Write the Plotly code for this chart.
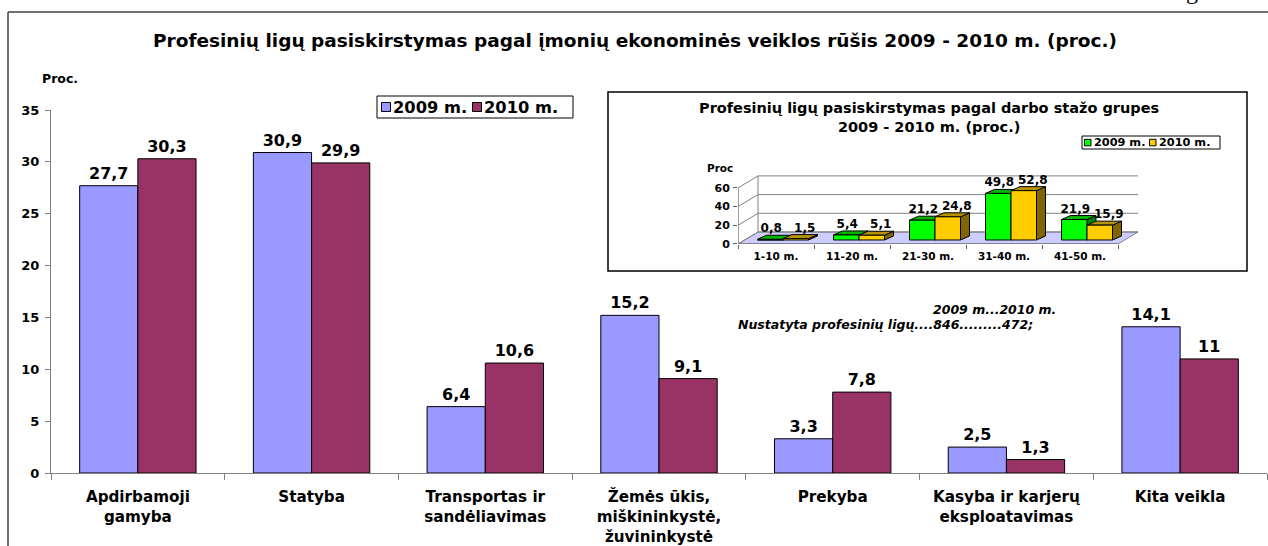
import plotly.graph_objects as go

# ---------------- data ----------------
categories = ["Apdirbamoji<br>gamyba", "Statyba", "Transportas ir<br>sandėliavimas",
              "Žemės ūkis,<br>miškininkystė,<br>žuvininkystė", "Prekyba",
              "Kasyba ir karjerų<br>eksploatavimas", "Kita veikla"]
series_names = ["2009 m.", "2010 m."]
values_2009 = [27.7, 30.9, 6.4, 15.2, 3.3, 2.5, 14.1]
values_2010 = [30.3, 29.9, 10.6, 9.1, 7.8, 1.3, 11]
y_ticks = [0, 5, 10, 15, 20, 25, 30, 35]

inset_categories = ["1-10 m.", "11-20 m.", "21-30 m.", "31-40 m.", "41-50 m."]
inset_2009 = [0.8, 5.4, 21.2, 49.8, 21.9]
inset_2010 = [1.5, 5.1, 24.8, 52.8, 15.9]
inset_ticks = [0, 20, 40, 60]

title_text = "Profesinių ligų pasiskirstymas pagal įmonių ekonominės veiklos rūšis 2009 - 2010 m. (proc.)"
inset_title = "Profesinių ligų pasiskirstymas pagal darbo stažo grupes<br>2009 - 2010 m. (proc.)"
y_title = "Proc."
inset_y_title = "Proc"
note_line1 = "2009 m...2010 m."
note_line2 = "Nustatyta profesinių ligų....846.........472;"

# ---------------- styles ----------------
FONT = "DejaVu Sans"
C2009, C2010 = "#9999FF", "#993366"
G_FRONT, G_TOP, G_SIDE = "#00FF00", "#00B400", "#008000"
Y_FRONT, Y_TOP, Y_SIDE = "#FFCC00", "#B89200", "#806600"
FLOOR = "#CCCCFF"
GRID = "#808080"


def fmt(v):
    return f"{v:g}".replace(".", ",")


def bfont(size, color="black", style="normal"):
    return dict(family=FONT, size=size, color=color, weight="bold", style=style)


W, H = 1268, 546
L, R, T, B = 51, 1, 110, 73
PW, PH = W - L - R, H - T - B


def px(x):
    return (x - L) / PW


def py(y):
    return (H - B - y) / PH


fig = go.Figure()

# ---------------- main bars ----------------
for name, vals, col in [(series_names[0], values_2009, C2009), (series_names[1], values_2010, C2010)]:
    fig.add_trace(go.Bar(
        x=categories, y=vals, name=name,
        marker=dict(color=col, line=dict(color="black", width=1)),
        text=[fmt(v) for v in vals], textposition="outside",
        textfont=bfont(16), cliponaxis=False, constraintext="none",
        showlegend=False, xaxis="x", yaxis="y", hoverinfo="skip"))

# ---------------- inset pseudo-3D chart ----------------
CAT_PX = 76.0
UNIT_PX = 0.935
DXW, DYW = 20 / CAT_PX, 12 / UNIT_PX        # wall depth
BOX, BOY = 7 / CAT_PX, 4 / UNIT_PX          # bar plane offset
BDX, BDY = 9 / CAT_PX, 4 / UNIT_PX          # bar depth
BW = 25.5 / CAT_PX                          # bar width
n = len(inset_categories)
xl, xr = -0.5, n - 0.5

# floor
fig.add_trace(go.Scatter(
    x=[xl, xr, xr + DXW, xl + DXW, xl], y=[0, 0, DYW, DYW, 0],
    mode="lines", fill="toself", fillcolor=FLOOR, line=dict(color=GRID, width=1),
    xaxis="x2", yaxis="y2", showlegend=False, hoverinfo="skip"))

# walls / gridlines
gx, gy = [], []
for v in inset_ticks:
    gx += [xl, xl + DXW, xr + DXW, None]
    gy += [v, v + DYW, v + DYW, None]
gx += [xl + DXW, xl + DXW, None]
gy += [DYW, inset_ticks[-1] + DYW, None]
fig.add_trace(go.Scatter(x=gx, y=gy, mode="lines", line=dict(color=GRID, width=1),
                         xaxis="x2", yaxis="y2", showlegend=False, hoverinfo="skip"))
# front axis line
fig.add_trace(go.Scatter(x=[xl, xl, xr], y=[inset_ticks[-1], 0, 0], mode="lines",
                         line=dict(color="#606060", width=1.2),
                         xaxis="x2", yaxis="y2", showlegend=False, hoverinfo="skip"))


def faces(vals, shift, label_dx):
    fx, fy, tx, ty, sx, sy = [], [], [], [], [], []
    lx, ly = [], []
    for i, v in enumerate(vals):
        x0 = i + BOX + shift
        x1 = x0 + BW
        y0, y1 = BOY, BOY + v
        fx += [x0, x1, x1, x0, x0, None]
        fy += [y0, y0, y1, y1, y0, None]
        tx += [x0, x1, x1 + BDX, x0 + BDX, x0, None]
        ty += [y1, y1, y1 + BDY, y1 + BDY, y1, None]
        sx += [x1, x1 + BDX, x1 + BDX, x1, x1, None]
        sy += [y0, y0 + BDY, y1 + BDY, y1, y0, None]
        lx.append((x0 + x1) / 2 + label_dx)
        ly.append(y1 + BDY)
    return fx, fy, tx, ty, sx, sy, lx, ly


for vals, shift, ldx, (cf, ct, cs) in [(inset_2009, -BW, 1 / CAT_PX, (G_FRONT, G_TOP, G_SIDE)),
                                       (inset_2010, 0.0, 9 / CAT_PX, (Y_FRONT, Y_TOP, Y_SIDE))]:
    fx, fy, tx, ty, sx, sy, lx, ly = faces(vals, shift, ldx)
    for xs, ys, c in [(sx, sy, cs), (tx, ty, ct), (fx, fy, cf)]:
        fig.add_trace(go.Scatter(x=xs, y=ys, mode="lines", fill="toself", fillcolor=c,
                                 line=dict(color="black", width=1),
                                 xaxis="x2", yaxis="y2", showlegend=False, hoverinfo="skip"))
    fig.add_trace(go.Scatter(x=lx, y=ly, mode="text", text=[fmt(v) for v in vals],
                             textposition="top center", textfont=bfont(12), cliponaxis=False,
                             xaxis="x2", yaxis="y2", showlegend=False, hoverinfo="skip"))

# ---------------- layout ----------------
in_x0 = 738
in_y0 = 244
x2_range = [xl, xr + 0.35]
y2_range = [0, 75]
x2_dom = [px(in_x0), px(in_x0 + (x2_range[1] - x2_range[0]) * CAT_PX)]
y2_dom = [py(in_y0), py(in_y0 - (y2_range[1] - y2_range[0]) * UNIT_PX)]

shapes = [
    # page frame
    dict(type="line", xref="paper", yref="paper", x0=px(8), x1=px(W + 5), y0=py(12), y1=py(12),
         line=dict(color="#404040", width=1.5)),
    dict(type="line", xref="paper", yref="paper", x0=px(8), x1=px(8), y0=py(12), y1=py(H + 5),
         line=dict(color="#404040", width=1.5)),
    # inset box
    dict(type="rect", xref="paper", yref="paper", x0=px(608), x1=px(1247), y0=py(92), y1=py(271),
         line=dict(color="black", width=1.5), fillcolor="white", layer="below"),
    # main legend
    dict(type="rect", xref="paper", yref="paper", x0=px(377), x1=px(573), y0=py(96), y1=py(118),
         line=dict(color="black", width=1), fillcolor="white"),
    dict(type="rect", xref="paper", yref="paper", x0=px(381.5), x1=px(390.5), y0=py(102.5), y1=py(111.5),
         line=dict(color="black", width=1), fillcolor=C2009),
    dict(type="rect", xref="paper", yref="paper", x0=px(472.5), x1=px(481.5), y0=py(102.5), y1=py(111.5),
         line=dict(color="black", width=1), fillcolor=C2010),
    # inset legend
    dict(type="rect", xref="paper", yref="paper", x0=px(1082), x1=px(1220), y0=py(136), y1=py(149),
         line=dict(color="black", width=1), fillcolor="white"),
    dict(type="rect", xref="paper", yref="paper", x0=px(1084.5), x1=px(1091), y0=py(139.3), y1=py(145.8),
         line=dict(color="black", width=1), fillcolor=G_FRONT),
    dict(type="rect", xref="paper", yref="paper", x0=px(1149.5), x1=px(1156), y0=py(139.3), y1=py(145.8),
         line=dict(color="black", width=1), fillcolor=Y_FRONT),
]

annotations = [
    dict(text=title_text, xref="paper", yref="paper", x=px(635), y=py(40), showarrow=False,
         xanchor="center", yanchor="middle", font=bfont(18.5)),
    dict(text=y_title, xref="paper", yref="paper", x=px(40), y=py(78), showarrow=False,
         xanchor="left", yanchor="middle", font=bfont(12.5)),
    dict(text=series_names[0], xref="paper", yref="paper", x=px(390.5), y=py(107.5), showarrow=False,
         xanchor="left", yanchor="middle", font=bfont(16.3)),
    dict(text=series_names[1], xref="paper", yref="paper", x=px(481.5), y=py(107.5), showarrow=False,
         xanchor="left", yanchor="middle", font=bfont(16.3)),
    dict(text=inset_title, xref="paper", yref="paper", x=px(929), y=py(117.5), showarrow=False,
         xanchor="center", yanchor="middle", font=bfont(14.5)),
    dict(text=series_names[0], xref="paper", yref="paper", x=px(1091.5), y=py(142.8), showarrow=False,
         xanchor="left", yanchor="middle", font=bfont(11.3)),
    dict(text=series_names[1], xref="paper", yref="paper", x=px(1156.5), y=py(142.8), showarrow=False,
         xanchor="left", yanchor="middle", font=bfont(11.3)),
    dict(text=inset_y_title, xref="paper", yref="paper", x=px(705), y=py(167.5), showarrow=False,
         xanchor="left", yanchor="middle", font=bfont(10.5)),
    dict(text=note_line1, xref="paper", yref="paper", x=px(931), y=py(309), showarrow=False,
         xanchor="left", yanchor="middle", font=bfont(12.5, style="italic")),
    dict(text=note_line2, xref="paper", yref="paper", x=px(736), y=py(324), showarrow=False,
         xanchor="left", yanchor="middle", font=bfont(12.5, style="italic")),
    dict(text="g", xref="paper", yref="paper", x=px(1192), y=py(-9), showarrow=False,
         xanchor="center", yanchor="middle",
         font=dict(family="Liberation Serif", size=24, color="black")),
]

fig.update_layout(
    width=W, height=H,
    margin=dict(l=L, r=R, t=T, b=B, pad=0, autoexpand=False),
    paper_bgcolor="white", plot_bgcolor="rgba(0,0,0,0)",
    barmode="group", bargap=0.33, bargroupgap=0,
    showlegend=False,
    xaxis=dict(type="category", showline=True, linecolor=GRID, linewidth=1.2,
               ticks="outside", tickson="boundaries", ticklen=6, tickcolor=GRID,
               tickfont=bfont(15.2), showgrid=False, zeroline=False, automargin=False,
               ticklabelstandoff=10, domain=[0, 1], fixedrange=True),
    yaxis=dict(range=[0, 35], tickvals=y_ticks, showline=True, linecolor=GRID, linewidth=1.2,
               ticks="outside", ticklen=5, tickcolor=GRID, tickfont=bfont(13), automargin=False,
               showgrid=False, zeroline=False, ticklabelstandoff=3, domain=[0, 1], fixedrange=True),
    xaxis2=dict(range=x2_range, domain=x2_dom, anchor="y2", automargin=False,
                tickvals=list(range(n)), ticktext=inset_categories, ticks="",
                tickfont=bfont(10.5), showgrid=False, zeroline=False, showline=False,
                ticklabelstandoff=4,
                minor=dict(tickvals=[i - 0.5 for i in range(n + 1)], ticks="outside",
                           ticklen=4, tickcolor="#606060"),
                fixedrange=True),
    yaxis2=dict(range=y2_range, domain=y2_dom, anchor="x2", automargin=False,
                tickvals=inset_ticks, ticks="outside", ticklen=4, tickcolor="#606060",
                tickfont=bfont(11), showgrid=False, zeroline=False, showline=False,
                ticklabelstandoff=1, fixedrange=True),
    shapes=shapes,
    annotations=annotations,
)

fig.write_html("out.html", config={"displayModeBar": False},
               post_script="document.body.style.margin='0';")
